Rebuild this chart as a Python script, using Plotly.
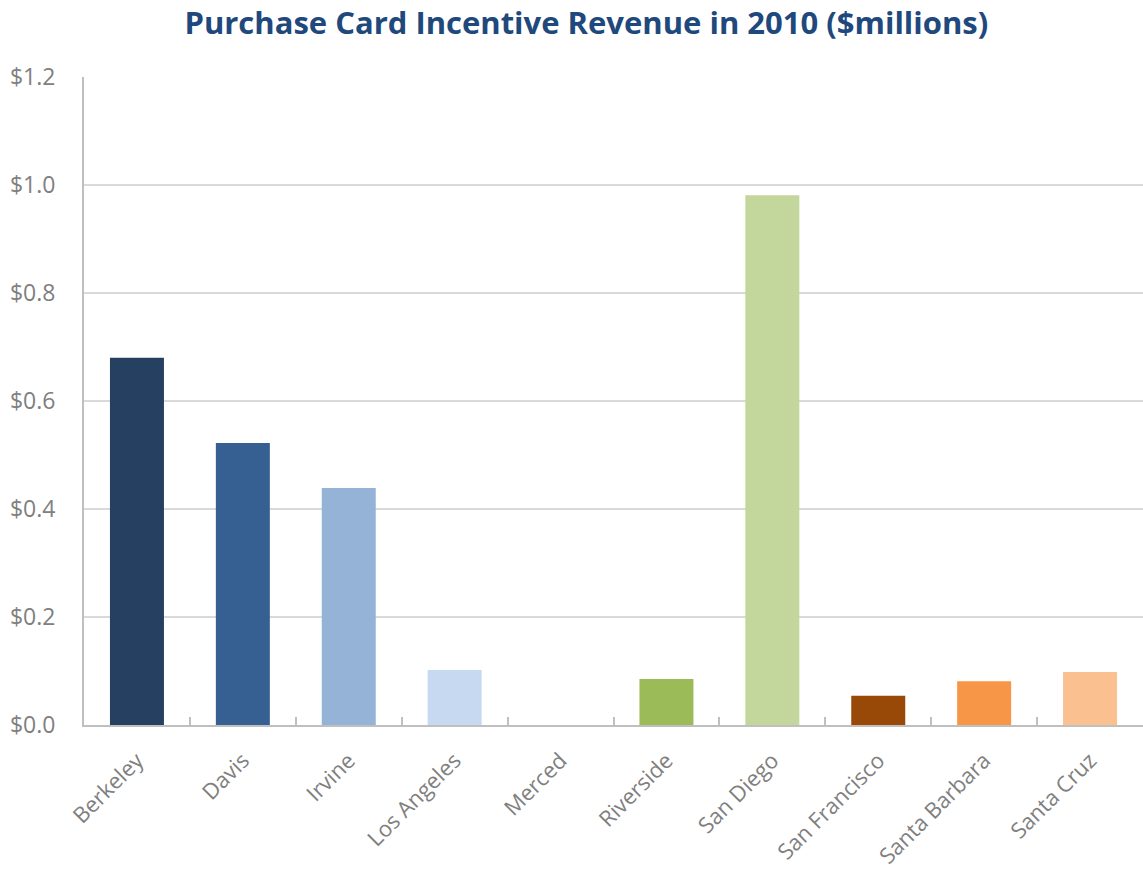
import plotly.graph_objects as go

campuses = ["Berkeley", "Davis", "Irvine", "Los Angeles", "Merced", "Riverside",
            "San Diego", "San Francisco", "Santa Barbara", "Santa Cruz"]
revenue = [0.68, 0.522, 0.439, 0.102, 0.0, 0.085, 0.981, 0.054, 0.081, 0.098]
bar_colors = ["#254061", "#376092", "#95B3D7", "#C6D9F1", "#8064A2", "#9BBB59",
              "#C3D69B", "#984807", "#F79646", "#FAC090"]
y_ticks = [0, 0.2, 0.4, 0.6, 0.8, 1.0, 1.2]
y_labels = ["$%.1f" % v for v in y_ticks]

fig = go.Figure(go.Bar(x=campuses, y=revenue, marker_color=bar_colors,
                       marker_line_width=0))

fig.update_layout(
    width=1143, height=875,
    margin=dict(l=84, r=0, t=77, b=150),
    paper_bgcolor="white", plot_bgcolor="white",
    bargap=0.49,
    showlegend=False,
    font=dict(family="Open Sans", color="#808080"),
    title=dict(text="<b>Purchase Card Incentive Revenue in 2010 ($millions)</b>",
               x=0.513, xanchor="center", y=0.973, yanchor="middle",
               font=dict(family="Open Sans", size=31, color="#1F497D")),
)
fig.update_xaxes(
    tickangle=-45, tickfont=dict(size=22, color="#808080"),
    ticklabelstandoff=12, automargin=False,
    showline=True, linecolor="#BFBFBF", linewidth=2,
    ticks="inside", tickson="boundaries", ticklen=8, tickcolor="#BFBFBF",
    tickwidth=2, showgrid=False,
)
fig.update_yaxes(
    range=[0, 1.2], tickvals=y_ticks, ticktext=y_labels,
    tickfont=dict(size=23, color="#808080"),
    ticklabelstandoff=22, automargin=False,
    showline=True, linecolor="#BFBFBF", linewidth=2,
    showgrid=True, gridcolor="#D9D9D9", gridwidth=1.5,
    ticks="", zeroline=False,
)

fig.write_html("out.html")
